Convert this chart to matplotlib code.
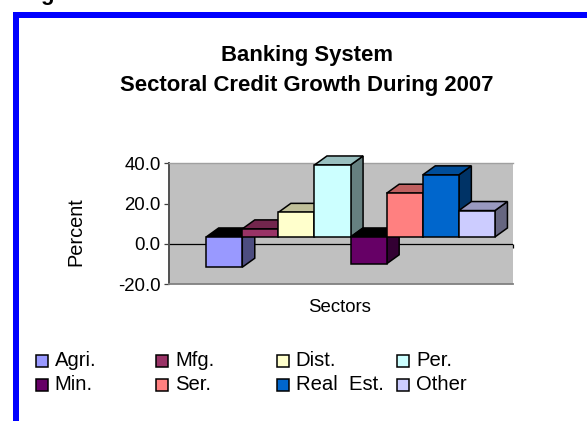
import matplotlib
matplotlib.use("Agg")
import matplotlib.pyplot as plt
from matplotlib.patches import Polygon, Rectangle
from matplotlib.colors import to_rgb

plt.rcParams['font.family'] = ['Liberation Sans', 'DejaVu Sans']

sectors = ["Agri.", "Mfg.", "Dist.", "Per.", "Min.", "Ser.", "Real  Est.", "Other"]
growth = [-15.0, 4.0, 12.2, 35.7, -13.3, 21.7, 30.8, 13.1]
colors = ["#9999FF", "#993366", "#FFFFCC", "#CCFFFF", "#660066", "#FF8080", "#0066CC", "#CCCCFF"]
yticks = [-20, 0, 20, 40]

W, H = 587, 421
fig = plt.figure(figsize=(W / 100, H / 100), dpi=100, facecolor="white")

left, right, top, bottom = 169, 513, 163.3, 284.3
ax = fig.add_axes([left / W, 1 - bottom / H, (right - left) / W, (bottom - top) / H])
ax.set_facecolor("#C0C0C0")
ax.set_ylim(-20, 40)
ax.set_xlim(-1.03, 8.5)  # one unit is one bar width

px_x = 1 / 36.1
px_y = 60 / (bottom - top)
dx, dy = 12.5 * px_x, 9 * px_y
base = 7 * px_y  # floor of the fake 3d box sits above the zero line

ax.axhline(0, color="black", lw=0.9, zorder=1)
ax.vlines(ax.get_xlim()[1], -2, 0, color="black", lw=0.9, zorder=1, clip_on=False)

z = 2
for i, (v, c) in enumerate(zip(growth, colors)):
    hi = base + max(v, 0)
    lo = base + min(v, 0)
    x0, x1 = i, i + 1
    rgb = to_rgb(c)
    side = tuple(k * 0.5 for k in rgb)
    lid = tuple(k * 0.75 for k in rgb) if v > 0 else "black"
    ax.add_patch(Polygon([(x1, lo), (x1 + dx, lo + dy), (x1 + dx, hi + dy), (x1, hi)],
                         fc=side, ec="black", lw=1.1, zorder=z, clip_on=False))
    ax.add_patch(Polygon([(x0, hi), (x0 + dx, hi + dy), (x1 + dx, hi + dy), (x1, hi)],
                         fc=lid, ec="black", lw=1.1, zorder=z, clip_on=False))
    ax.bar(x0, hi - lo, width=1, bottom=lo, align="edge", color=c, edgecolor="black", lw=1.1, zorder=z, clip_on=False)
    z += 1

ax.set_yticks(yticks)
ax.set_yticklabels([f"{t:.1f}" for t in yticks], fontsize=13.4)
ax.set_xticks([])
ax.tick_params(axis="y", length=3.5, width=0.9, color="#404040", pad=2.5)
ax.spines["right"].set_visible(False)
ax.spines["left"].set_color("#505050")
ax.spines["left"].set_linewidth(1.4)
ax.spines["bottom"].set_color("#808080")
ax.spines["bottom"].set_linewidth(1.3)
ax.spines["top"].set_color("#A0A0A0")
ax.spines["top"].set_linewidth(1)

fig.text(307 / W, 1 - 55.5 / H, "Banking System", ha="center", va="center", fontsize=15.9, fontweight="bold")
fig.text(307 / W, 1 - 85.5 / H, "Sectoral Credit Growth During 2007", ha="center", va="center", fontsize=15.9, fontweight="bold")
fig.text(75.5 / W, 1 - 232 / H, "Percent", rotation=90, ha="center", va="center", fontsize=14.4)
fig.text(340 / W, 1 - 308 / H, "Sectors", ha="center", va="center", fontsize=13.4)

# legend: equal columns, row by row
for i, (name, c) in enumerate(zip(sectors, colors)):
    col, row = i % 4, i // 4
    x = 35.5 + col * 120.5
    y = 360 + row * 24.5
    fig.add_artist(Rectangle((x / W, 1 - (y + 6.5) / H), 12 / W, 12 / H, transform=fig.transFigure,
                             fc=c, ec="black", lw=1.1))
    fig.text((x + 19) / W, 1 - y / H, name, ha="left", va="center", fontsize=14.6)

# blue page frame
fig.add_artist(Rectangle((13 / W, 0), 6 / W, 1 - 12 / H, transform=fig.transFigure, fc="#0000FF", ec="none"))
fig.add_artist(Rectangle((13 / W, 1 - 18 / H), 1 - 13 / W, 6 / H, transform=fig.transFigure, fc="#0000FF", ec="none"))

# caption from the page above is cropped, only the tail of this letter shows
fig.text(40 / W, 1, "g", ha="left", va="baseline", fontsize=15.9, fontweight="bold")

fig.savefig("out.png", dpi=100)
